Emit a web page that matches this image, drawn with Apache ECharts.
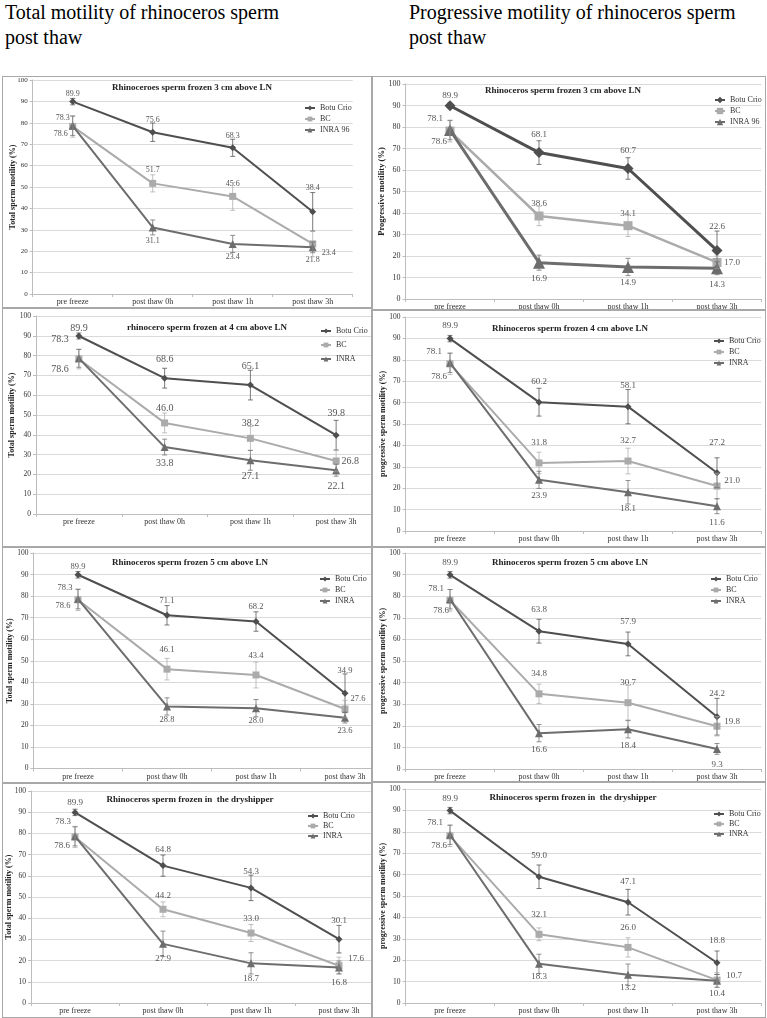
<!DOCTYPE html>
<html>
<head>
<meta charset="utf-8">
<script src="https://cdn.jsdelivr.net/npm/echarts@6/dist/echarts.min.js"></script>
<style>
  html, body { margin:0; padding:0; background:#fff; }
  #page { position:relative; width:767px; height:1018px; overflow:hidden; background:#fff; }
  .head { position:absolute; font-family:"Liberation Serif", serif; font-size:20px; line-height:25px; color:#000; white-space:nowrap; }
  .clip { position:absolute; overflow:hidden; }
  .chart { position:absolute; left:0; top:0; }
  .frame { position:absolute; border:1px solid #a8a8a8; box-sizing:border-box; pointer-events:none; }
</style>
</head>
<body>
<div id="page">
  <div class="head" style="left:5px; top:0px;">Total motility of rhinoceros sperm<br>post thaw</div>
  <div class="head" style="left:409px; top:0px;">Progressive motility of rhinoceros sperm<br>post thaw</div>
</div>
<script>
// ---------------- DATA ----------------
const categories = ['pre freeze', 'post thaw 0h', 'post thaw 1h', 'post thaw 3h'];
const yTicks = [0, 10, 20, 30, 40, 50, 60, 70, 80, 90, 100];

// Total motility, 3 cm above LN
const tm3Botu = [89.9, 75.6, 68.3, 38.4];
const tm3BC   = [78.3, 51.7, 45.6, 23.4];
const tm3INRA = [78.6, 31.1, 23.4, 21.8];
const tm3BotuErr = [1.5, 4.3, 4.0, 9.0];
const tm3BCErr   = [5.0, 4.0, 6.5, 6.0];
const tm3INRAErr = [4.5, 3.5, 4.0, 2.5];
// Progressive motility, 3 cm above LN
const pm3Botu = [89.9, 68.1, 60.7, 22.6];
const pm3BC   = [78.1, 38.6, 34.1, 17.0];
const pm3INRA = [78.6, 16.9, 14.9, 14.3];
const pm3BotuErr = [1.2, 5.5, 5.0, 9.0];
const pm3BCErr   = [5.0, 4.5, 5.0, 3.0];
const pm3INRAErr = [4.5, 3.5, 4.0, 3.0];
// Total motility, 4 cm above LN
const tm4Botu = [89.9, 68.6, 65.1, 39.8];
const tm4BC   = [78.3, 46.0, 38.2, 26.8];
const tm4INRA = [78.6, 33.8, 27.1, 22.1];
const tm4BotuErr = [1.5, 5.0, 7.5, 7.5];
const tm4BCErr   = [5.0, 5.0, 6.0, 5.5];
const tm4INRAErr = [4.5, 4.0, 5.0, 3.0];
// Progressive motility, 4 cm above LN
const pm4Botu = [89.9, 60.2, 58.1, 27.2];
const pm4BC   = [78.1, 31.8, 32.7, 21.0];
const pm4INRA = [78.6, 23.9, 18.1, 11.6];
const pm4BotuErr = [1.5, 6.5, 8.0, 7.0];
const pm4BCErr   = [5.0, 5.0, 6.0, 6.0];
const pm4INRAErr = [4.5, 4.0, 5.5, 3.5];
// Total motility, 5 cm above LN
const tm5Botu = [89.9, 71.1, 68.2, 34.9];
const tm5BC   = [78.3, 46.1, 43.4, 27.6];
const tm5INRA = [78.6, 28.8, 28.0, 23.6];
const tm5BotuErr = [1.5, 4.5, 4.5, 9.0];
const tm5BCErr   = [5.0, 5.0, 6.0, 4.0];
const tm5INRAErr = [4.5, 4.0, 4.0, 2.5];
// Progressive motility, 5 cm above LN
const pm5Botu = [89.9, 63.8, 57.9, 24.2];
const pm5BC   = [78.1, 34.8, 30.7, 19.8];
const pm5INRA = [78.6, 16.6, 18.4, 9.3];
const pm5BotuErr = [1.5, 5.5, 5.5, 8.5];
const pm5BCErr   = [5.0, 4.5, 8.0, 4.5];
const pm5INRAErr = [4.5, 4.0, 4.0, 2.5];
// Total motility, dryshipper
const tmDBotu = [89.9, 64.8, 54.3, 30.1];
const tmDBC   = [78.3, 44.2, 33.0, 17.6];
const tmDINRA = [78.6, 27.9, 18.7, 16.8];
const tmDBotuErr = [1.5, 5.0, 6.0, 6.5];
const tmDBCErr   = [5.0, 3.5, 4.0, 4.0];
const tmDINRAErr = [4.5, 6.0, 5.0, 3.0];
// Progressive motility, dryshipper
const pmDBotu = [89.9, 59.0, 47.1, 18.8];
const pmDBC   = [78.1, 32.1, 26.0, 10.7];
const pmDINRA = [78.6, 18.3, 13.2, 10.4];
const pmDBotuErr = [1.5, 5.5, 6.0, 5.5];
const pmDBCErr   = [5.0, 3.0, 4.5, 3.5];
const pmDINRAErr = [4.5, 4.5, 5.0, 3.0];

// ---------------- LAYOUT / STYLE ----------------
const FONT = '"Liberation Serif", "DejaVu Serif", serif';
const COLORS = ['#4f4f4f', '#ababab', '#6d6d6d'];

const panels = [
  { title:'Rhinoceroes sperm frozen 3 cm above LN', titlePos:[192,88], yName:'Total sperm motility (%)',
    names:['Botu Crio','BC','INRA 96'], data:[tm3Botu,tm3BC,tm3INRA], err:[tm3BotuErr,tm3BCErr,tm3INRAErr],
    box:[2,76,370,232], plot:[32.7,80,320,214], extra:30, legend:[304,104], legendGap:3, nameGap:16,
    big:false, lblFont:8, yFont:7, dy:{botuPre:-8, botu:-12, botu3:-24, bc:-13, inra:13}, bc3:[16,9], bcPre:[-10,-9], inraPre:[-12,8] },
  { title:'Rhinoceros sperm frozen 3 cm above LN', titlePos:[563,91], yName:'Progressive motility (%)',
    names:['Botu Crio','BC','INRA 96'], data:[pm3Botu,pm3BC,pm3INRA], err:[pm3BotuErr,pm3BCErr,pm3INRAErr],
    box:[372,76,394,234], plot:[405.5,84,356,215], extra:0, legend:[714,96], legendGap:3, nameGap:19,
    big:true, lblFont:9, yFont:8, dy:{botuPre:-10, botu:-18, botu3:-24, bc:-12, inra:16}, bc3:[15,0], bcPre:[-15,-12], inraPre:[-11,12] },
  { title:'rhinocero sperm frozen at 4 cm above LN', titlePos:[207,328], yName:'Total sperm motility (%)',
    names:['Botu Crio','BC','INRA'], data:[tm4Botu,tm4BC,tm4INRA], err:[tm4BotuErr,tm4BCErr,tm4INRAErr],
    box:[2,308,370,239], plot:[36,316,343,198], extra:30, legend:[320,327], legendGap:6, nameGap:20,
    big:false, lblFont:10, yFont:7.5, dy:{botuPre:-8, botu:-19, botu3:-22, bc:-15, inra:16}, bc3:[14,0], bcPre:[-19,-20], inraPre:[-19,11] },
  { title:'Rhinoceros sperm frozen 4 cm above LN', titlePos:[570,329], yName:'progressive sperm motility (%)',
    names:['Botu Crio','BC','INRA'], data:[pm4Botu,pm4BC,pm4INRA], err:[pm4BotuErr,pm4BCErr,pm4INRAErr],
    box:[372,310,394,237], plot:[405.5,317,356,214], extra:0, legend:[713,337], legendGap:3, nameGap:19,
    big:false, lblFont:9, yFont:7.5, dy:{botuPre:-13, botu:-21, botu3:-30, bc:-20, inra:16}, bc3:[15,-5], bcPre:[-16,-12], inraPre:[-11,14] },
  { title:'Rhinoceros sperm frozen 5 cm above LN', titlePos:[190,563], yName:'Total sperm motility (%)',
    names:['Botu Crio','BC','INRA'], data:[tm5Botu,tm5BC,tm5INRA], err:[tm5BotuErr,tm5BCErr,tm5INRAErr],
    box:[2,547,370,236], plot:[33.5,553,356,215.5], extra:30, legend:[319,575], legendGap:3, nameGap:20,
    big:false, lblFont:8.5, yFont:7.5, dy:{botuPre:-8, botu:-15, botu3:-23, bc:-19, inra:13}, bc3:[13,-10], bcPre:[-13,-12], inraPre:[-15,7] },
  { title:'Rhinoceros sperm frozen 5 cm above LN', titlePos:[570,563], yName:'progressive sperm motility (%)',
    names:['Botu Crio','BC','INRA'], data:[pm5Botu,pm5BC,pm5INRA], err:[pm5BotuErr,pm5BCErr,pm5INRAErr],
    box:[372,547,394,235], plot:[405.5,553,356,216], extra:0, legend:[710,575], legendGap:3, nameGap:19,
    big:false, lblFont:9, yFont:7.5, dy:{botuPre:-12, botu:-22, botu3:-23, bc:-20, inra:16}, bc3:[15,-5], bcPre:[-14,-12], inraPre:[-9,11] },
  { title:'Rhinoceros sperm frozen in  the dryshipper', titlePos:[190,800], yName:'Total sperm motility (%)',
    names:['Botu Crio','BC','INRA'], data:[tmDBotu,tmDBC,tmDINRA], err:[tmDBotuErr,tmDBCErr,tmDINRAErr],
    box:[2,783,370,235], plot:[31,791,352,212], extra:30, legend:[307,812], legendGap:2, nameGap:18,
    big:false, lblFont:9, yFont:7.5, dy:{botuPre:-10, botu:-16, botu3:-19, bc:-14, inra:15}, bc3:[17,-7], bcPre:[-12,-15], inraPre:[-13,9] },
  { title:'Rhinoceros sperm frozen in  the dryshipper', titlePos:[573,798], yName:'progressive sperm motility (%)',
    names:['Botu Crio','BC','INRA'], data:[pmDBotu,pmDBC,pmDINRA], err:[pmDBotuErr,pmDBCErr,pmDINRAErr],
    box:[372,782,394,236], plot:[405.5,789,356,214], extra:0, legend:[713,810], legendGap:2, nameGap:19,
    big:false, lblFont:9, yFont:7.5, dy:{botuPre:-12, botu:-21, botu3:-22, bc:-20, inra:13}, bc3:[17,-4], bcPre:[-15,-13], inraPre:[-11,11] }
];

const page = document.getElementById('page');

function errRenderer(color) {
  return function (params, api) {
    const x = api.value(0), y = api.value(1), e = api.value(2);
    const hi = api.coord([x, y + e]);
    const lo = api.coord([x, y - e]);
    const w = 2.5;
    const st = { stroke: color, lineWidth: 1, opacity: 0.75 };
    return { type: 'group', children: [
      { type: 'line', shape: { x1: hi[0], y1: hi[1], x2: lo[0], y2: lo[1] }, style: st },
      { type: 'line', shape: { x1: hi[0] - w, y1: hi[1], x2: hi[0] + w, y2: hi[1] }, style: st },
      { type: 'line', shape: { x1: lo[0] - w, y1: lo[1], x2: lo[0] + w, y2: lo[1] }, style: st }
    ]};
  };
}

panels.forEach(function (p) {
  const bx = p.box[0], by = p.box[1], bw = p.box[2], bh = p.box[3];
  const clip = document.createElement('div');
  clip.className = 'clip';
  clip.style.left = bx + 'px'; clip.style.top = by + 'px';
  clip.style.width = bw + 'px'; clip.style.height = bh + 'px';
  const inner = document.createElement('div');
  inner.className = 'chart';
  inner.style.width = (bw + p.extra) + 'px'; inner.style.height = bh + 'px';
  clip.appendChild(inner);
  page.appendChild(clip);
  const frame = document.createElement('div');
  frame.className = 'frame';
  frame.style.left = bx + 'px'; frame.style.top = by + 'px';
  frame.style.width = bw + 'px'; frame.style.height = bh + 'px';
  page.appendChild(frame);

  const chart = echarts.init(inner, null, { renderer: 'canvas' });
  const symbols = ['diamond', 'rect', 'triangle'];
  const sizes = p.big ? [11, 9, 12] : [7, 7, 8];
  const widths = p.big ? [3, 2.5, 3] : [2, 2, 2];
  const series = [];
  for (let si = 0; si < 3; si++) {
    const vals = p.data[si];
    const items = vals.map(function (v, i) {
      let off;
      if (si === 0) off = [0, i === 0 ? p.dy.botuPre : (i === 3 ? p.dy.botu3 : p.dy.botu)];
      else if (si === 1) off = i === 0 ? p.bcPre : (i === 3 ? p.bc3 : [0, p.dy.bc]);
      else off = i === 0 ? p.inraPre : [0, p.dy.inra];
      return { value: v, label: { offset: off } };
    });
    series.push({
      name: p.names[si], type: 'line', data: items, symbol: symbols[si], symbolSize: sizes[si],
      lineStyle: { color: COLORS[si], width: widths[si] },
      itemStyle: { color: COLORS[si] },
      z: si === 1 ? 2 : (si === 2 ? 3 : 4),
      label: { show: true, position: 'inside', color: '#555', fontSize: p.lblFont, fontFamily: FONT,
               align: 'center', verticalAlign: 'middle',
               formatter: function (pr) { return pr.value.toFixed(1); } },
      emphasis: { disabled: true }
    });
    series.push({
      name: p.names[si] + ' error', type: 'custom', renderItem: errRenderer(COLORS[si]),
      data: vals.map(function (v, i) { return [i, v, p.err[si][i]]; }),
      encode: { x: 0, y: 1 }, z: 5, silent: true
    });
  }

  chart.setOption({
    animation: false,
    grid: { left: p.plot[0] - bx, top: p.plot[1] - by, width: p.plot[2], height: p.plot[3],
            containLabel: false, outerBoundsMode: 'none' },
    xAxis: {
      type: 'category', data: categories, boundaryGap: true,
      axisLine: { lineStyle: { color: '#bdbdbd', width: 1 } },
      axisTick: { show: true, length: 3, lineStyle: { color: '#bdbdbd' } },
      axisLabel: { color: '#333', fontSize: 8, fontFamily: FONT, margin: 4, interval: 0 }
    },
    yAxis: {
      type: 'value', min: yTicks[0], max: yTicks[yTicks.length - 1], interval: 10,
      name: p.yName, nameLocation: 'middle', nameGap: p.nameGap, nameRotate: 90, nameMoveOverlap: false,
      nameTextStyle: { fontFamily: FONT, fontWeight: 'bold', fontSize: p.big ? 8.5 : 8, color: '#222' },
      axisLine: { show: true, lineStyle: { color: '#bdbdbd', width: 1 } },
      axisTick: { show: true, length: 3, lineStyle: { color: '#bdbdbd' } },
      axisLabel: { color: '#333', fontSize: p.yFont, fontFamily: FONT, margin: 5 },
      splitLine: { lineStyle: { color: '#dadada', width: 1 } }
    },
    legend: {
      data: p.names, orient: 'vertical', left: p.legend[0] - bx, top: p.legend[1] - by,
      itemWidth: 10, itemHeight: p.big ? 8 : 6, itemGap: p.legendGap, padding: 0,
      textStyle: { fontFamily: FONT, fontSize: 8, color: '#333' }, selectedMode: false
    },
    graphic: [{
      type: 'text', x: p.titlePos[0] - bx, y: p.titlePos[1] - by, z: 10,
      style: { text: p.title, font: 'bold 9px ' + FONT, fill: '#222', align: 'center', verticalAlign: 'middle' }
    }],
    series: series
  });
});
</script>
</body>
</html>
